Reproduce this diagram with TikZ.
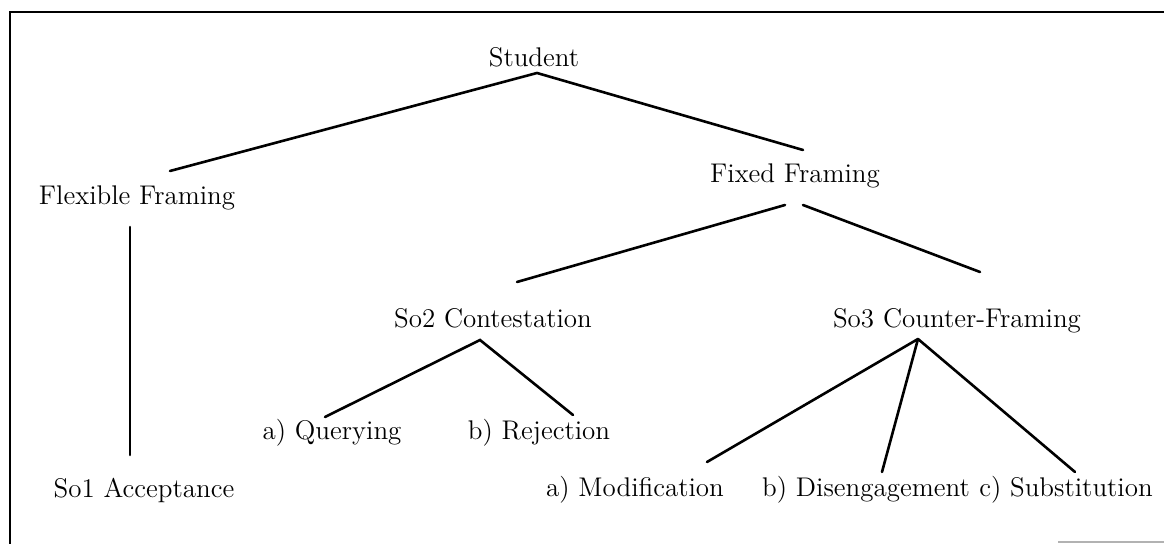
\documentclass[tikz,border=0pt]{standalone}
\usepackage{tikz}
\begin{document}
\begin{tikzpicture}[x=0.5pt,y=-0.5pt,
  lbl/.style={anchor=base,inner sep=0pt,font=\fontsize{13.5}{16}\selectfont},
  branch/.style={line width=1.3pt,line cap=round},
  frame/.style={line width=1.4pt}]
\useasboundingbox (0,0) rectangle (1164,544);
\fill[white] (0,0) rectangle (1164,544);
% frame
\draw[frame] (10,544) -- (10,12) -- (1164,12);
\draw[gray!60,line width=1pt] (1058,542) -- (1164,542);
% nodes
\node[lbl] (student) at (534,67) {Student};
\node[lbl] (flex) at (137,205) {Flexible Framing};
\node[lbl] (fixed) at (795,183) {Fixed Framing};
\node[lbl] (so2) at (493,328) {So2 Contestation};
\node[lbl] (so3) at (957,328) {So3 Counter-Framing};
\node[lbl] (query) at (332,440) {a) Querying};
\node[lbl] (reject) at (539,440) {b) Rejection};
\node[lbl] (so1) at (144,498) {So1 Acceptance};
\node[lbl] (mod) at (635,497) {a) Modification};
\node[lbl] (dis) at (866,497) {b) Disengagement};
\node[lbl] (sub) at (1066,497) {c) Substitution};
% connectors
\coordinate (sapex) at ([shift={(3,6)}]student.base);
\draw[branch] ([shift={(33,-34)}]flex.base) -- (sapex) -- ([shift={(8,-33)}]fixed.base);
\draw[branch] ([shift={(-7,22)}]flex.base) -- ([shift={(-14,-43)}]so1.base);
\draw[branch] ([shift={(-10,22)}]fixed.base) -- ([shift={(24,-46)}]so2.base);
\draw[branch] ([shift={(8,22)}]fixed.base) -- ([shift={(23,-56)}]so3.base);
\coordinate (apex2) at ([shift={(-13,12)}]so2.base);
\draw[branch] ([shift={(-7,-23)}]query.base) -- (apex2) -- ([shift={(34,-25)}]reject.base);
\coordinate (apex3) at ([shift={(-39,11)}]so3.base);
\draw[branch] ([shift={(72,-35)}]mod.base) -- (apex3);
\draw[branch] ([shift={(16,-25)}]dis.base) -- (apex3);
\draw[branch] ([shift={(9,-25)}]sub.base) -- (apex3);
\end{tikzpicture}
\end{document}
